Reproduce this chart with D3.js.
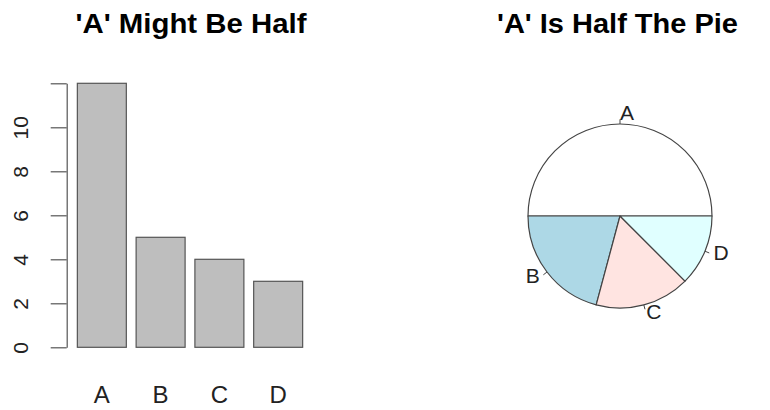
<!DOCTYPE html>
<html>
<head>
<meta charset="utf-8">
<script src="https://cdn.jsdelivr.net/npm/d3@7"></script>
<style>
  body { margin: 0; background: #fff; }
  text { font-family: "Liberation Sans", Arial, Helvetica, sans-serif; }
</style>
</head>
<body>
<div id="chart"></div>
<script>
const categories = ["A", "B", "C", "D"];
const counts = [12, 5, 4, 3];
const yTicks = [0, 2, 4, 6, 8, 10, 12];
const yTickLabels = ["0", "2", "4", "6", "8", "10", ""];
const pieColors = ["#ffffff", "#add8e6", "#ffe4e1", "#e0ffff"];

const width = 770, height = 410;

const svg = d3.select("#chart").append("svg")
  .attr("width", width)
  .attr("height", height);

// ============================
// Bar chart (left)
// ============================

const yscale = d3.scaleLinear()
  .domain([0, 12])
  .range([347.3, 83.3]);

const xscale = d3.scaleBand()
  .domain(categories)
  .range([70, 310])
  .paddingInner(1 / 6)
  .paddingOuter(1 / 6 * 0.75);

svg.append("text")
  .attr("x", 191)
  .attr("y", 33)
  .attr("text-anchor", "middle")
  .attr("font-size", 27)
  .attr("font-weight", "bold")
  .attr("textLength", 231)
  .attr("lengthAdjust", "spacingAndGlyphs")
  .text("'A' Might Be Half");

const yAxis = svg.append("g")
  .attr("transform", "translate(66.7,0)")
  .call(d3.axisLeft(yscale).tickValues(yTicks).tickFormat((d, i) => yTickLabels[i]).tickSize(16).tickSizeOuter(0));

yAxis.select(".domain").attr("stroke", "#555").attr("stroke-width", 1.2);
yAxis.selectAll(".tick line").attr("stroke", "#555").attr("stroke-width", 1.2);
yAxis.selectAll(".tick text")
  .attr("font-size", 21)
  .attr("fill", "#222")
  .attr("text-anchor", "middle")
  .attr("dy", null)
  .attr("x", null)
  .attr("transform", "translate(-44,0) rotate(-90)")
  .attr("dominant-baseline", "middle");

svg.append("g")
  .selectAll("rect")
  .data(counts)
  .join("rect")
  .attr("x", (d, i) => xscale(categories[i]))
  .attr("y", d => yscale(d))
  .attr("width", xscale.bandwidth())
  .attr("height", d => yscale(0) - yscale(d))
  .attr("fill", "#bebebe")
  .attr("stroke", "#555")
  .attr("stroke-width", 1.2);

svg.append("g")
  .selectAll("text")
  .data(categories)
  .join("text")
  .attr("x", d => xscale(d) + xscale.bandwidth() / 2)
  .attr("y", 403)
  .attr("text-anchor", "middle")
  .attr("font-size", 24)
  .attr("fill", "#222")
  .text(d => d);

// ============================
// Pie chart (right), R style: counter-clockwise from 3 o'clock
// ============================

const cx = 620, cy = 216, r = 92;

svg.append("text")
  .attr("x", 617.5)
  .attr("y", 33)
  .attr("text-anchor", "middle")
  .attr("font-size", 27)
  .attr("font-weight", "bold")
  .attr("textLength", 241)
  .attr("lengthAdjust", "spacingAndGlyphs")
  .text("'A' Is Half The Pie");

const total = d3.sum(counts);
const cum = d3.cumsum(counts);
const slices = counts.map((d, i) => ({
  label: categories[i],
  start: (cum[i] - d) / total * 2 * Math.PI,
  end: cum[i] / total * 2 * Math.PI,
  color: pieColors[i]
}));

// R angle (ccw from +x) to d3 arc angle (cw from 12 o'clock)
const toD3 = a => Math.PI / 2 - a;

const arc = d3.arc().innerRadius(0).outerRadius(r);

const pie = svg.append("g").attr("transform", `translate(${cx},${cy})`);

pie.selectAll("path")
  .data(slices)
  .join("path")
  .attr("d", d => arc({ startAngle: toD3(d.end), endAngle: toD3(d.start) }))
  .attr("fill", d => d.color)
  .attr("stroke", "#444")
  .attr("stroke-width", 1.2)
  .attr("stroke-linejoin", "round");

slices.forEach(d => {
  const mid = (d.start + d.end) / 2;
  const c = Math.cos(mid), s = -Math.sin(mid);
  pie.append("line")
    .attr("x1", r * c).attr("y1", r * s)
    .attr("x2", 1.05 * r * c).attr("y2", 1.05 * r * s)
    .attr("stroke", "#444");
  pie.append("text")
    .attr("x", 1.1 * r * c)
    .attr("y", 1.1 * r * s)
    .attr("text-anchor", c < -1e-9 ? "end" : "start")
    .attr("dominant-baseline", "middle")
    .attr("font-size", 21)
    .attr("fill", "#222")
    .text(d.label);
});
</script>
</body>
</html>
